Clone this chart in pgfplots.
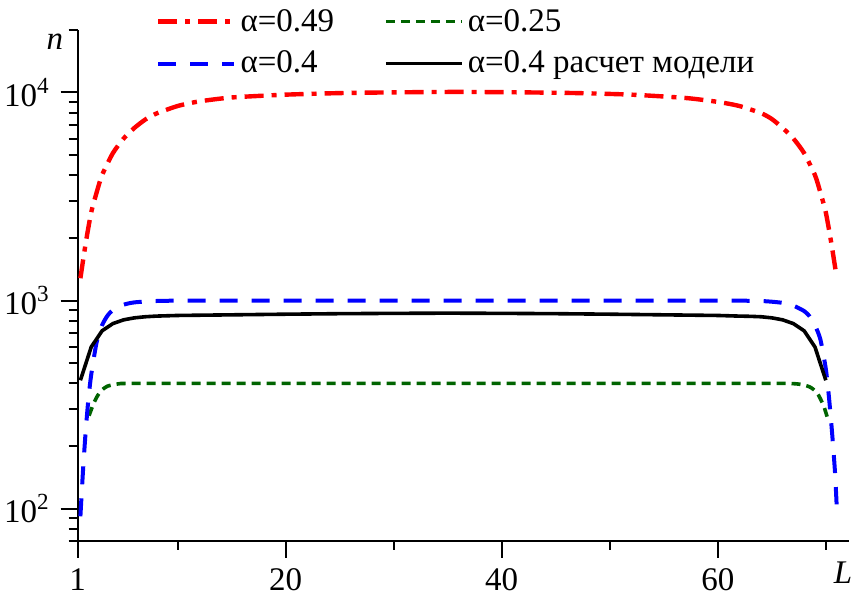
\documentclass[border=0pt]{standalone}
\usepackage{fontspec}
\setmainfont{Liberation Serif}
\usepackage{pgfplots}
\pgfplotsset{compat=1.18}
\definecolor{dgreen}{RGB}{0,100,0}
\begin{document}
\begin{tikzpicture}
\useasboundingbox (-38.85pt,-30pt) rectangle (388.65pt,270.5pt);
\begin{axis}[
  scale only axis, width=385.4pt, height=255.65pt,
  ymode=log, xmin=0.75, xmax=72.1, ymin=70, ymax=20000,
  axis x line=bottom, axis y line=left,
  axis line style={-, line width=1pt},
  tick align=outside, major tick length=8.5pt, minor tick length=4.5pt,
  tick style={black, line width=1pt},
  minor tick style={black, line width=1pt},
  xtick={0.75,20,40,60}, xticklabels={1,20,40,60},
  minor xtick={10,30,50,70},
  ytick={100,1000,10000},
  yticklabels={10\textsuperscript{2},10\textsuperscript{3},10\textsuperscript{4}},
  minor ytick={70,80,90,200,300,400,500,600,700,800,900,2000,3000,4000,5000,6000,7000,8000,9000,20000},
  tick label style={font=\fontsize{16.5}{19}\selectfont},
  xticklabel style={yshift=-2pt},
  yticklabel style={xshift=-2pt},
  clip=false,
  legend columns=2,
  legend cell align=left,
  legend image code/.code={\draw[#1] (0pt,0pt) -- (38pt,0pt);},
  legend style={draw=none, fill=none, at={(rel axis cs:0,1)}, anchor=north west,
    xshift=36pt, yshift=14.5pt, font=\fontsize{16.5}{19}\selectfont, row sep=4.5pt,
    /tikz/every even column/.append style={column sep=23pt}},
]
\addplot[red, line width=2.2pt, dash pattern=on 9.5pt off 4pt on 2.5pt off 4pt, smooth, tension=0.4] coordinates {
(1,1280) (1.5,1900) (2,2650) (2.5,3300) (3,4000) (4,5100) (5,6000) (6,6750) (7,7400) (8,7900)
(10,8600) (12,9050) (15,9450) (20,9750) (25,9920) (30,10000) (36,10050) (42,10000) (47,9920)
(52,9750) (57,9400) (60,9000) (62,8600) (64,7950) (65,7450) (66,6750) (67,6000) (68,5100)
(69,4000) (69.5,3300) (70,2650) (70.5,1900) (71,1300)};
\addlegendentry{α=0.49}
\addplot[dgreen, line width=1.8pt, dash pattern=on 4.5pt off 3pt, smooth, tension=0.4] coordinates {
(1.8,280) (2.2,318) (2.6,350) (3,372) (3.5,388) (4.5,398) (6,400) (20,400) (40,400) (60,400)
(66,400) (67.5,397) (68.5,385) (69.2,360) (69.8,312) (70.2,268)};
\addlegendentry{α=0.25}
\addplot[blue, line width=2pt, dash pattern=on 9pt off 7pt, smooth, tension=0.4] coordinates {
(1,92) (1.25,155) (1.5,240) (1.75,340) (2,440) (2.5,630) (3,760) (3.5,845) (4,900) (5,955)
(6,980) (8,995) (12,1000) (30,1000) (50,1000) (60,1000) (64,995) (66,975) (67,945) (68,890)
(68.5,840) (69,760) (69.5,650) (70,470) (70.3,340) (70.6,225) (70.85,150) (71,105)};
\addlegendentry{α=0.4}
\addplot[black, line width=1.8pt] coordinates {
(1,414) (2,598) (3,715) (4,775) (5,808) (6,826) (7,836) (8,842) (10,848) (15,854) (20,860)
(25,865) (30,868) (35,870) (40,868) (45,865) (50,860) (55,854) (60,848) (62,842) (63,840)
(64,836) (65,826) (66,808) (67,775) (68,715) (69,598) (70,414)};
\addlegendentry{α=0.4 расчет модели}
\draw[line width=1pt] (rel axis cs:0,0) -- ++(-4pt,0pt);
\node[font=\fontsize{16.5}{19}\selectfont\itshape] at (rel axis cs:0,1) [xshift=-11.35pt, yshift=-6pt] {n};
\node[font=\fontsize{16.5}{19}\selectfont\itshape] at (rel axis cs:1,0) [xshift=-2.75pt, yshift=-16pt] {L};
\end{axis}
\end{tikzpicture}
\end{document}
